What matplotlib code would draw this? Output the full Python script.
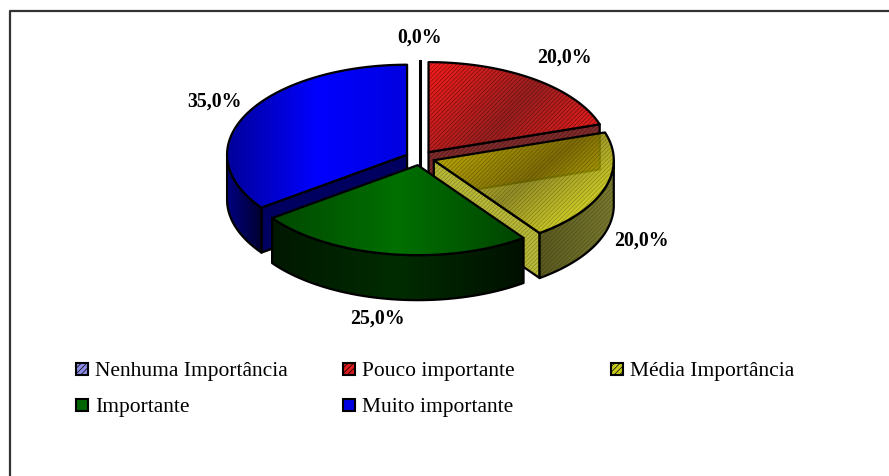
import numpy as np
import matplotlib
matplotlib.use('Agg')
import matplotlib.pyplot as plt
from matplotlib.colors import to_rgba
from matplotlib.patches import Polygon, Rectangle

plt.rcParams['font.family'] = ['Liberation Serif', 'DejaVu Serif']
plt.rcParams['hatch.linewidth'] = 0.5

# Data
categories = ['Nenhuma Importância', 'Pouco importante', 'Média Importância', 'Importante', 'Muito importante']
values = [0.0, 20.0, 20.0, 25.0, 35.0]

# Pie geometry, in pixels of the picture
cx, cy = 420, 159
rx, ry = 180, 90
depth = 45
explode = 14.5

# Slices are painted back to front
draw_order = [0, 4, 1, 2, 3]

# Gradient stops for the top face, side face and cut face of each slice, and gradient angle
top_stops = {
    1: ['#f81c1c', '#9c2020', '#f81c1c'],
    2: ['#d8d000', '#807800', '#f4f400'],
    3: ['#004800', '#007000', '#004400'],
    4: ['#00009a', '#0000ff', '#0000e0'],
}
top_angle = {1: -25, 2: -35, 3: 0, 4: 0}
side_stops = {
    2: ['#5a5a20', '#7a7a30'],
    3: ['#001800', '#002c00', '#001000'],
    4: ['#000080', '#000030'],
}
cut_colors = {1: '#802c2c', 2: '#b8b838', 4: '#000060'}
hatch_colors = {1: '#20000080', 2: '#18180050'}
top_alpha = {2: 0.85}

# Legend swatches and label positions
swatch_colors = ['#8c8ce6', '#dc1c1c', '#c8c81e', '#006400', '#0000e0']
swatch_hatch = ['//////', '//////', '//////', None, None]
legend_x = [76, 343, 611, 76, 343]
legend_y = [370, 370, 370, 406, 406]
label_xy = [(420, 38), (564, 58), (641, 241), (377, 319), (214, 102)]


def rim(x0, y0, a, b):
    # a and b are clockwise from 12 o'clock, in degrees
    t = np.radians(np.linspace(a, b, max(2, int(abs(b - a) * 2))))
    return np.column_stack([x0 + rx * np.sin(t), y0 - ry * np.cos(t)])


def grad_fill(ax, verts, stops, angle=0, alpha=1.0, zorder=2):
    # linear gradient clipped to a polygon
    x0, y0 = verts.min(axis=0)
    x1, y1 = verts.max(axis=0)
    nx, ny = int(x1 - x0) + 2, int(y1 - y0) + 2
    xx, yy = np.meshgrid(np.linspace(0, 1, nx), np.linspace(0, 1, ny))
    a = np.radians(angle)
    g = xx * np.cos(a) - yy * np.sin(a)
    g = (g - g.min()) / (g.max() - g.min())
    cols = np.array([to_rgba(c) for c in stops])
    pos = np.linspace(0, 1, len(stops))
    img = np.dstack([np.interp(g, pos, cols[:, i]) for i in range(4)])
    img[..., 3] = alpha
    clip = Polygon(verts, closed=True, transform=ax.transData)
    im = ax.imshow(img, extent=(x0, x1, y1, y0), aspect='auto', zorder=zorder, interpolation='bilinear')
    im.set_clip_path(clip)


def outline(ax, verts, zorder, hatch_color=None):
    if hatch_color:
        ax.add_patch(Polygon(verts, closed=True, facecolor='none', edgecolor=hatch_color,
                             hatch='////////', linewidth=0, zorder=zorder))
    ax.add_patch(Polygon(verts, closed=True, facecolor='none', edgecolor='black',
                         linewidth=1.6, joinstyle='round', zorder=zorder))


fig = plt.figure(figsize=(8.89, 4.77), dpi=100)
ax = fig.add_axes([0, 0, 1, 1])

# Chart frame, open on the right and at the bottom
ax.plot([10, 10, 889], [477, 11.5, 11.5], color='#333333', linewidth=1.6, zorder=1)

# Angles of the slices, clockwise from 12 o'clock
edges = np.concatenate([[0], np.cumsum(values) / sum(values) * 360])

z = 2
for i in draw_order:
    start, end = edges[i], edges[i + 1]
    mid = np.radians((start + end) / 2)
    x0 = cx + explode * np.sin(mid)
    y0 = cy - explode * np.cos(mid) * ry / rx

    if values[i] == 0:
        # an empty slice only leaves its radius behind
        ax.plot([x0, x0], [y0 - ry, y0 + depth], color='black', linewidth=2.2, zorder=z)
        z += 5
        continue

    # cut faces turned to the viewer
    for ang, seen in ((start, 180 < start < 360), (end, 0 < end < 180)):
        if seen:
            p = rim(x0, y0, ang, ang)[0]
            face = np.array([[x0, y0], p, p + [0, depth], [x0, y0 + depth]])
            grad_fill(ax, face, [cut_colors[i], cut_colors[i]], zorder=z)
            outline(ax, face, z + 0.5, hatch_colors.get(i))

    # outer wall, front half only
    a, b = max(start, 90), min(end, 270)
    if b > a:
        arc = rim(x0, y0, a, b)
        wall = np.vstack([arc, arc[::-1] + [0, depth]])
        grad_fill(ax, wall, side_stops[i], zorder=z + 1)
        outline(ax, wall, z + 1.5, hatch_colors.get(i))

    # top face
    top = np.vstack([[x0, y0], rim(x0, y0, start, end)])
    grad_fill(ax, top, top_stops[i], angle=top_angle[i], alpha=top_alpha.get(i, 1.0), zorder=z + 2)
    outline(ax, top, z + 2.5, hatch_colors.get(i))

    z += 5

# Data labels
for v, (lx, ly) in zip(values, label_xy):
    ax.text(lx, ly, f'{v:.1f}%'.replace('.', ','), ha='center', va='center',
            fontsize=14.3, fontweight='bold', color='black', zorder=50)

# Legend
for name, col, h, lx, ly in zip(categories, swatch_colors, swatch_hatch, legend_x, legend_y):
    ax.add_patch(Rectangle((lx, ly - 6), 12, 12, facecolor=col, edgecolor='black', linewidth=1.5,
                           hatch=h, zorder=50))
    ax.text(lx + 19, ly + 1.5, name, ha='left', va='center', fontsize=15.5, color='black', zorder=50)

ax.set_xlim(0, 889)
ax.set_ylim(477, 0)
ax.axis('off')

fig.savefig('out.png', dpi=100, facecolor='white')
